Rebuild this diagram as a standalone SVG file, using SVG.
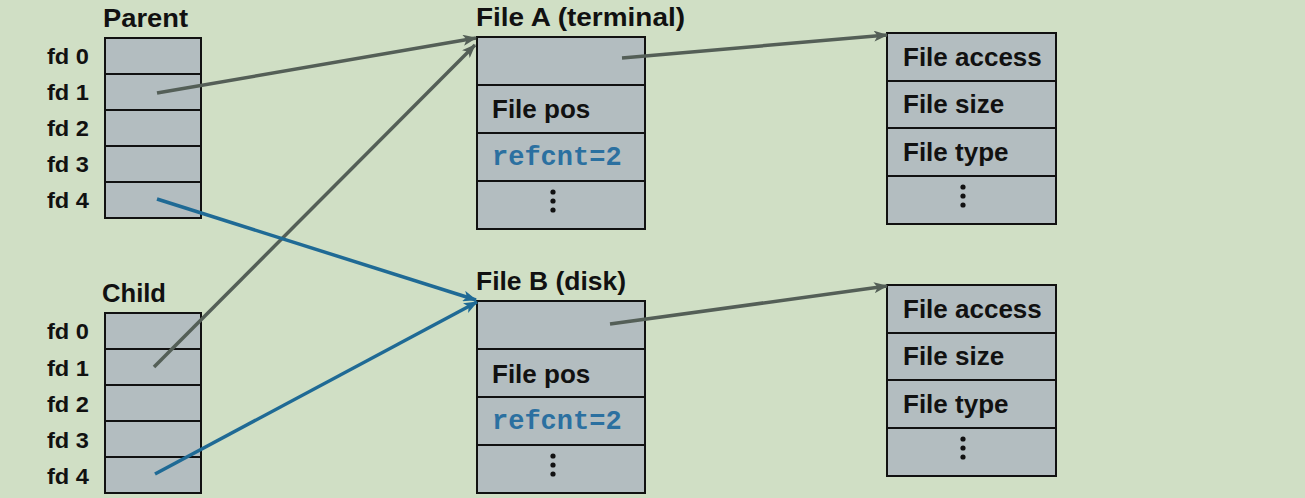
<svg xmlns="http://www.w3.org/2000/svg" width="1305" height="498" viewBox="0 0 1305 498">
<defs>
<style>
.bg{fill:#d0dfc5}
.cell{fill:#b3bdc0;stroke:#111;stroke-width:2}
.h{font-family:"Liberation Sans",Arial,sans-serif;font-weight:bold;font-size:26px;fill:#111}
.fd{font-family:"Liberation Sans",Arial,sans-serif;font-weight:bold;font-size:22px;fill:#111}
.mono{font-family:"Liberation Mono","Courier New",monospace;font-weight:bold;font-size:27px;fill:#2b70a0}
.dot{fill:#111}
.cg{stroke:#545f57;stroke-width:3.5;fill:none}
.cb{stroke:#1f6a95;stroke-width:3.5;fill:none}
</style>
<marker id="ag" viewBox="0 0 14 11" refX="13" refY="5.5" markerWidth="14" markerHeight="11" markerUnits="userSpaceOnUse" orient="auto">
<path d="M0,0 L14,5.5 L0,11 L3.5,5.5 Z" fill="#545f57"/>
</marker>
<marker id="ab" viewBox="0 0 14 11" refX="13" refY="5.5" markerWidth="14" markerHeight="11" markerUnits="userSpaceOnUse" orient="auto">
<path d="M0,0 L14,5.5 L0,11 L3.5,5.5 Z" fill="#1f6a95"/>
</marker>
</defs>
<rect class="bg" x="0" y="0" width="1305" height="498"/>

<g id="parent">
<text class="h" x="103" y="27" textLength="85" lengthAdjust="spacingAndGlyphs">Parent</text>
<rect class="cell" x="105" y="38" width="96" height="36"/>
<rect class="cell" x="105" y="74" width="96" height="36"/>
<rect class="cell" x="105" y="110" width="96" height="36"/>
<rect class="cell" x="105" y="146" width="96" height="36"/>
<rect class="cell" x="105" y="182" width="96" height="36"/>
<text class="fd" x="47" y="64" textLength="42" lengthAdjust="spacingAndGlyphs">fd 0</text>
<text class="fd" x="47" y="100" textLength="42" lengthAdjust="spacingAndGlyphs">fd 1</text>
<text class="fd" x="47" y="136" textLength="42" lengthAdjust="spacingAndGlyphs">fd 2</text>
<text class="fd" x="47" y="172" textLength="42" lengthAdjust="spacingAndGlyphs">fd 3</text>
<text class="fd" x="47" y="208" textLength="42" lengthAdjust="spacingAndGlyphs">fd 4</text>
</g>

<g id="child">
<text class="h" x="102" y="302" textLength="64" lengthAdjust="spacingAndGlyphs">Child</text>
<rect class="cell" x="105" y="313" width="96" height="36"/>
<rect class="cell" x="105" y="349" width="96" height="36"/>
<rect class="cell" x="105" y="385" width="96" height="36"/>
<rect class="cell" x="105" y="421" width="96" height="36"/>
<rect class="cell" x="105" y="457" width="96" height="36"/>
<text class="fd" x="47" y="339" textLength="42" lengthAdjust="spacingAndGlyphs">fd 0</text>
<text class="fd" x="47" y="376" textLength="42" lengthAdjust="spacingAndGlyphs">fd 1</text>
<text class="fd" x="47" y="412" textLength="42" lengthAdjust="spacingAndGlyphs">fd 2</text>
<text class="fd" x="47" y="448" textLength="42" lengthAdjust="spacingAndGlyphs">fd 3</text>
<text class="fd" x="47" y="484" textLength="42" lengthAdjust="spacingAndGlyphs">fd 4</text>
</g>

<g id="fileA">
<text class="h" x="476" y="26" textLength="209" lengthAdjust="spacingAndGlyphs">File A (terminal)</text>
<rect class="cell" x="477" y="37" width="168" height="48"/>
<rect class="cell" x="477" y="85" width="168" height="48"/>
<rect class="cell" x="477" y="133" width="168" height="48"/>
<rect class="cell" x="477" y="181" width="168" height="48"/>
<text class="h" x="492" y="118">File pos</text>
<text class="mono" x="492" y="165">refcnt=2</text>
<circle class="dot" cx="553" cy="192" r="2.6"/>
<circle class="dot" cx="553" cy="201" r="2.6"/>
<circle class="dot" cx="553" cy="210" r="2.6"/>
</g>

<g id="fileB">
<text class="h" x="476" y="290" textLength="150" lengthAdjust="spacingAndGlyphs">File B (disk)</text>
<rect class="cell" x="477" y="301" width="168" height="48"/>
<rect class="cell" x="477" y="349" width="168" height="48"/>
<rect class="cell" x="477" y="397" width="168" height="48"/>
<rect class="cell" x="477" y="445" width="168" height="48"/>
<text class="h" x="492" y="383">File pos</text>
<text class="mono" x="492" y="429">refcnt=2</text>
<circle class="dot" cx="553" cy="456" r="2.6"/>
<circle class="dot" cx="553" cy="465" r="2.6"/>
<circle class="dot" cx="553" cy="474" r="2.6"/>
</g>

<g id="vnodeA">
<rect class="cell" x="887" y="33" width="169" height="48"/>
<rect class="cell" x="887" y="81" width="169" height="47"/>
<rect class="cell" x="887" y="128" width="169" height="48"/>
<rect class="cell" x="887" y="176" width="169" height="48"/>
<text class="h" x="903" y="66">File access</text>
<text class="h" x="903" y="113">File size</text>
<text class="h" x="903" y="161">File type</text>
<circle class="dot" cx="963" cy="187" r="2.6"/>
<circle class="dot" cx="963" cy="196" r="2.6"/>
<circle class="dot" cx="963" cy="205" r="2.6"/>
</g>

<g id="vnodeB">
<rect class="cell" x="887" y="285" width="169" height="48"/>
<rect class="cell" x="887" y="333" width="169" height="47"/>
<rect class="cell" x="887" y="380" width="169" height="48"/>
<rect class="cell" x="887" y="428" width="169" height="48"/>
<text class="h" x="903" y="318">File access</text>
<text class="h" x="903" y="365">File size</text>
<text class="h" x="903" y="413">File type</text>
<circle class="dot" cx="963" cy="439" r="2.6"/>
<circle class="dot" cx="963" cy="448" r="2.6"/>
<circle class="dot" cx="963" cy="457" r="2.6"/>
</g>

<g id="connectors">
<line class="cg" x1="157" y1="93" x2="476" y2="38" marker-end="url(#ag)"/>
<line class="cg" x1="154" y1="367" x2="475" y2="45" marker-end="url(#ag)"/>
<line class="cb" x1="157" y1="199" x2="476" y2="300" marker-end="url(#ab)"/>
<line class="cb" x1="155" y1="474" x2="477" y2="302" marker-end="url(#ab)"/>
<line class="cg" x1="622" y1="58" x2="887" y2="35" marker-end="url(#ag)"/>
<line class="cg" x1="610" y1="324" x2="887" y2="286" marker-end="url(#ag)"/>
</g>
</svg>
